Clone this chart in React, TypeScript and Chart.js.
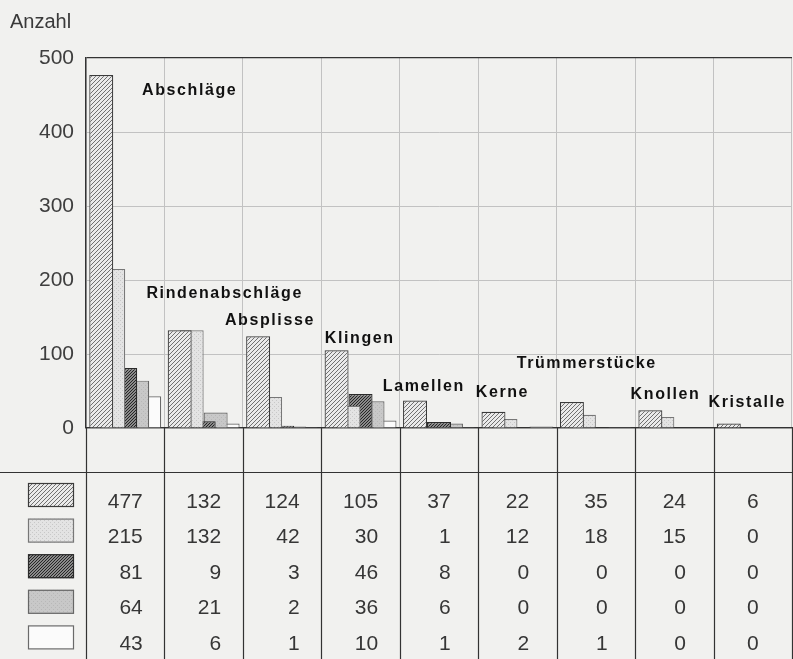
import React, { useEffect, useRef } from 'react';
import { Chart, registerables } from 'chart.js';

Chart.register(...registerables);

// ---------- data ----------
const categories = ['Abschläge', 'Rindenabschläge', 'Absplisse', 'Klingen', 'Lamellen', 'Kerne', 'Trümmerstücke', 'Knollen', 'Kristalle'];
const seriesA = [477, 132, 124, 105, 37, 22, 35, 24, 6];
const seriesB = [215, 132, 42, 30, 1, 12, 18, 15, 0];
const seriesC = [81, 9, 3, 46, 8, 0, 0, 0, 0];
const seriesD = [64, 21, 2, 36, 6, 0, 0, 0, 0];
const seriesE = [43, 6, 1, 10, 1, 2, 1, 0, 0];
const yTickValues = [0, 100, 200, 300, 400, 500];
const yAxisTitle = 'Anzahl';
// value level (baseline) at which each category name is written
const labelLevels = [450, 176, 139, 115, 50, 42, 81, 39, 28];

// ---------- layout ----------
const W = 793;
const H = 659;
const labelDx = [56, -18, -18, 3.5, -17, -2.5, -40, -4.5, -5];
const FONT = '"Liberation Sans", Arial, Helvetica, sans-serif';

function makeTile(size: number, bg: string, draw: (c: CanvasRenderingContext2D) => void) {
  const t = document.createElement('canvas');
  t.width = size;
  t.height = size;
  const c = t.getContext('2d')!;
  c.fillStyle = bg;
  c.fillRect(0, 0, size, size);
  draw(c);
  return t;
}

function diag(size: number, color: string, lw: number) {
  return (c: CanvasRenderingContext2D) => {
    c.strokeStyle = color;
    c.lineWidth = lw;
    c.beginPath();
    for (const o of [-size, 0, size]) {
      c.moveTo(o, size);
      c.lineTo(o + size, 0);
    }
    c.stroke();
  };
}

export default function App() {
  const ref = useRef<HTMLCanvasElement | null>(null);

  useEffect(() => {
    const canvas = ref.current!;
    const ctx0 = canvas.getContext('2d')!;
    const fills: (CanvasPattern | string)[] = [
      ctx0.createPattern(makeTile(4, '#eaeaea', diag(4, '#707070', 1)), 'repeat')!,
      ctx0.createPattern(
        makeTile(4, '#e3e3e3', (c) => {
          c.fillStyle = '#c8c8c8';
          c.fillRect(0, 0, 1, 1);
          c.fillRect(2, 2, 1, 1);
        }),
        'repeat'
      )!,
      ctx0.createPattern(makeTile(3, '#8a8a8a', diag(3, '#262626', 1)), 'repeat')!,
      ctx0.createPattern(
        makeTile(4, '#c8c8c8', (c) => {
          c.fillStyle = '#b8b8b8';
          c.fillRect(1, 1, 1, 1);
          c.fillRect(3, 3, 1, 1);
        }),
        'repeat'
      )!,
      '#fbfbfb',
    ];
    const borders = ['#3a3a3a', '#777777', '#2a2a2a', '#666666', '#6a6a6a'];
    const seriesList = [seriesA, seriesB, seriesC, seriesD, seriesE];

    const tablePlugin = {
      id: 'tablePlugin',
      beforeDraw(chart: any) {
        const c = chart.ctx;
        c.save();
        c.fillStyle = '#f1f1ef';
        c.fillRect(0, 0, chart.width, chart.height);
        c.restore();
      },
      afterDraw(chart: any) {
        const c: CanvasRenderingContext2D = chart.ctx;
        const area = chart.chartArea;
        const xs = chart.scales.x;
        const ys = chart.scales.y;
        const step = xs.getPixelForValue(1) - xs.getPixelForValue(0);
        const left0 = xs.getPixelForValue(0) - step / 2;
        const tableTop = area.bottom + 44;
        c.save();
        // lines below the plot
        c.strokeStyle = '#333';
        c.lineWidth = 1.2;
        c.beginPath();
        for (let k = 0; k <= categories.length; k++) {
          const X = Math.round(left0 + k * step) + 0.5;
          c.moveTo(X, area.bottom);
          c.lineTo(X, chart.height);
        }
        c.moveTo(0, tableTop + 0.5);
        c.lineTo(chart.width, tableTop + 0.5);
        c.stroke();

        // legend swatches
        for (let i = 0; i < seriesList.length; i++) {
          const cy = tableTop + 23 + i * 35.6;
          c.fillStyle = fills[i] as any;
          c.fillRect(28, cy - 12, 46, 24);
          c.strokeStyle = borders[i];
          c.lineWidth = 1.2;
          c.strokeRect(28.5, cy - 11.5, 45, 23);
        }

        // values
        c.font = `21px ${FONT}`;
        c.fillStyle = '#363636';
        c.textAlign = 'right';
        c.textBaseline = 'alphabetic';
        for (let col = 0; col < categories.length; col++) {
          const center = xs.getPixelForValue(col);
          let maxW = 0;
          for (const s of seriesList) maxW = Math.max(maxW, c.measureText(String(s[col])).width);
          const right = center + maxW / 2;
          for (let i = 0; i < seriesList.length; i++) {
            c.fillText(String(seriesList[i][col]), right, tableTop + 36 + i * 35.4);
          }
        }

        // category names
        c.font = `bold 16px ${FONT}`;
        (c as any).letterSpacing = '1.6px';
        c.fillStyle = '#111';
        c.textAlign = 'left';
        for (let col = 0; col < categories.length; col++) {
          const X = left0 + col * step + labelDx[col];
          const Y = ys.getPixelForValue(labelLevels[col]);
          c.fillText(categories[col], X, Y);
        }
        (c as any).letterSpacing = '0px';

        // axis title
        c.font = `20px ${FONT}`;
        c.fillStyle = '#3a3a3a';
        c.fillText(yAxisTitle, 10, 28);
        c.restore();
      },
    };

    const chart = new Chart(canvas, {
      type: 'bar',
      data: {
        labels: categories,
        datasets: seriesList.map((s, i) => ({
          label: `Serie ${i + 1}`,
          data: s,
          backgroundColor: fills[i] as any,
          borderColor: borders[i],
          borderWidth: 1.2,
          categoryPercentage: 0.764,
          barPercentage: 2,
        })),
      },
      options: {
        animation: false,
        responsive: true,
        maintainAspectRatio: false,
        devicePixelRatio: 1,
        layout: { padding: { top: 58, right: 1, left: 0, bottom: 0 } },
        plugins: { legend: { display: false }, tooltip: { enabled: false }, title: { display: false } },
        scales: {
          x: {
            ticks: { display: false },
            grid: { color: '#c2c2c2', lineWidth: 1, drawTicks: false, offset: true },
            border: { display: true, color: '#333', width: 1.2 },
            afterFit: (scale: any) => {
              scale.height = 231;
            },
          },
          y: {
            min: 0,
            max: 500,
            afterBuildTicks: (scale: any) => {
              scale.ticks = yTickValues.map((v) => ({ value: v }));
            },
            ticks: {
              padding: 12,
              color: '#3e3e3e',
              font: { family: FONT, size: 21 },
              callback: (v: any) => String(v),
            },
            grid: {
              drawTicks: false,
              color: (ctx: any) => (ctx.tick && (ctx.tick.value === 500 || ctx.tick.value === 0) ? '#333' : '#c2c2c2'),
              lineWidth: (ctx: any) => (ctx.tick && (ctx.tick.value === 500 || ctx.tick.value === 0) ? 1.2 : 1),
            },
            border: { display: true, color: '#333', width: 1.4 },
            afterFit: (scale: any) => {
              scale.width = 86;
            },
          },
        },
      },
      plugins: [tablePlugin],
    });
    return () => chart.destroy();
  }, []);

  return (
    <div style={{ position: 'absolute', left: 0, top: 0, width: W, height: H }}>
      <canvas ref={ref} />
    </div>
  );
}
